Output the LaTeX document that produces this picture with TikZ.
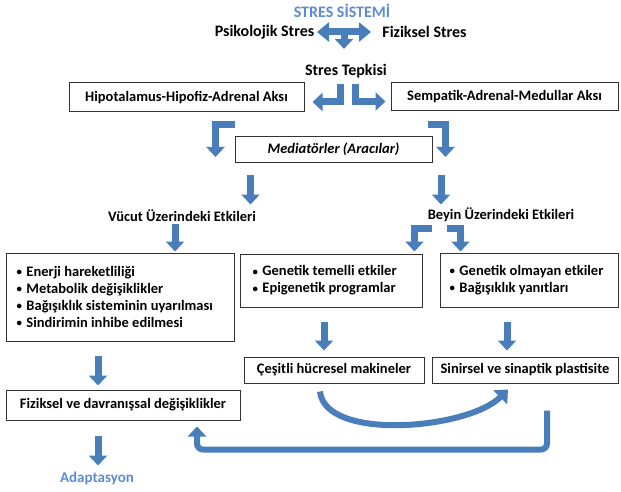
\documentclass[tikz,border=0pt]{standalone}
\usepackage{fontspec}
\setmainfont{Carlito}
\usetikzlibrary{arrows.meta}
\definecolor{arr}{HTML}{4A7EBB}
\definecolor{ttl}{HTML}{5B8BD0}
\newcommand{\bul}{\raisebox{0.12ex}{\scalebox{0.75}{\textbullet}}\hspace{0.3em}}
\begin{document}
\begin{tikzpicture}[x=1pt,y=-1pt,
  every node/.style={font=\fontsize{14.5}{17}\selectfont\bfseries},
  txt/.style={inner sep=1pt, font=\fontsize{16}{18}\selectfont\bfseries},
  blue txt/.style={txt, text=ttl},
  box/.style={draw=black!80, line width=1pt, fill=white, inner sep=0pt},
  listtxt/.style={align=left, inner sep=0pt, anchor=west},
  barrow/.style={draw=arr, line width=7pt, -{Triangle[length=10pt,width=18pt]}},
  darrow/.style={draw=arr, line width=7pt, {Triangle[length=12pt,width=19pt]}-{Triangle[length=12pt,width=19pt]}},
]
\useasboundingbox (0,0) rectangle (621,492);

% texts
\node[blue txt] (title) at (342,11) {STRES SİSTEMİ};
\node[txt] (ps) at (264.5,32) {Psikolojik Stres};
\node[txt] (fz) at (424.5,32) {Fiziksel Stres};
\node[txt] (st) at (346,71) {Stres Tepkisi};

% boxes
\node[box, minimum width=235pt, minimum height=29pt] (hha) at (186.5,97.5) {Hipotalamus-Hipofiz-Adrenal Aksı};
\node[box, minimum width=227pt, minimum height=28pt] (sam) at (504.5,97) {Sempatik-Adrenal-Medullar Aksı};
\node[box, minimum width=197pt, minimum height=25pt, font=\fontsize{14.5}{17}\selectfont\bfseries\itshape] (med) at (333.5,149.5) {Mediatörler (Aracılar)};

\node[inner sep=1pt] (vu) at (182,216) {Vücut Üzerindeki Etkileri};
\node[inner sep=1pt] (by) at (501,215) {Beyin Üzerindeki Etkileri};

\node[box, minimum width=228pt, minimum height=88pt] (lbox) at (120,297) {};
\node[listtxt] (ltxt) at ([xshift=11pt]lbox.west)
  {\bul Enerji hareketliliği\\ \bul Metabolik değişiklikler\\ \bul Bağışıklık sisteminin uyarılması\\ \bul Sindirimin inhibe edilmesi};
\node[box, minimum width=182pt, minimum height=53pt] (gbox) at (331,280.5) {};
\node[listtxt] (gtxt) at ([xshift=13pt]gbox.west)
  {\bul Genetik temelli etkiler\\ \bul Epigenetik programlar};
\node[box, minimum width=178pt, minimum height=54pt] (obox) at (529,280) {};
\node[listtxt] (otxt) at ([xshift=10pt]obox.west)
  {\bul Genetik olmayan etkiler\\ \bul Bağışıklık yanıtları};

\node[box, minimum width=180pt, minimum height=26pt] (cbox) at (334,370) {Çeşitli hücresel makineler};
\node[box, minimum width=186pt, minimum height=26pt] (sbox) at (525,370) {Sinirsel ve sinaptik plastisite};
\node[box, minimum width=234pt, minimum height=30pt] (fbox) at (123,405) {Fiziksel ve davranışsal değişiklikler};
\node[blue txt, font=\fontsize{15}{18}\selectfont\bfseries] (ad) at (97,478) {Adaptasyon};

% arrows
\coordinate (dl) at (317,32);
\coordinate (dr) at (371,32);
\coordinate (dc) at (344,30);
\draw[darrow] (dl) -- (dr);
\draw[barrow] (dc) -- ([xshift=-2pt,yshift=14pt]st.north);

\draw[barrow] ([xshift=-5.5pt,yshift=-5pt]st.south) |- ([xshift=8pt,yshift=-4.5pt]hha.east);
\draw[barrow] ([xshift=9.5pt,yshift=-5pt]st.south) |- ([xshift=-5pt,yshift=-4.5pt]sam.west);

\draw[barrow] ([yshift=12pt]med.north west) -| ([xshift=-19pt,yshift=-7.5pt]med.west);
\draw[barrow] ([xshift=-5pt,yshift=12pt]med.north east) -| ([xshift=13pt,yshift=-7.5pt]med.east);

\draw[barrow] ([xshift=-83pt,yshift=-12pt]med.south) -- ++(0,30);
\draw[barrow] ([xshift=107.5pt,yshift=-12pt]med.south) -- ++(0,30);

\draw[barrow] ([xshift=55pt,yshift=29pt]lbox.north) -- ([xshift=55pt,yshift=1pt]lbox.north);

\draw[barrow] ([xshift=9pt,yshift=25pt]gbox.north east) -| ([xshift=-8pt,yshift=2pt]gbox.north east);
\draw[barrow] ([xshift=7pt,yshift=24pt]obox.north west) -| ([xshift=21pt,yshift=1pt]obox.north west);

\draw[barrow] ([xshift=-7pt,yshift=-14pt]gbox.south) -- ++(0,29);
\draw[barrow] ([xshift=-22pt,yshift=-14pt]obox.south) -- ++(0,29);

\draw[barrow] ([xshift=-22pt,yshift=-14pt]lbox.south) -- ++(0,30);
\draw[barrow] ([xshift=-25pt,yshift=-15pt]fbox.south) -- ++(0,30);

\draw[draw=arr, line width=6pt, -{Triangle[length=11pt,width=19pt]}]
  ([xshift=-14pt,yshift=-8pt]cbox.south) .. controls +(5,50) and +(-40,40) .. ([xshift=-17pt,yshift=-6pt]sbox.south);

\draw[draw=arr, line width=6pt, rounded corners=6pt, -{Triangle[length=10pt,width=18pt]}]
  ([xshift=22pt,yshift=-27pt]sbox.south) -- ++(0,39) -| ([xshift=74pt,yshift=-6pt]fbox.south);
\end{tikzpicture}
\end{document}
